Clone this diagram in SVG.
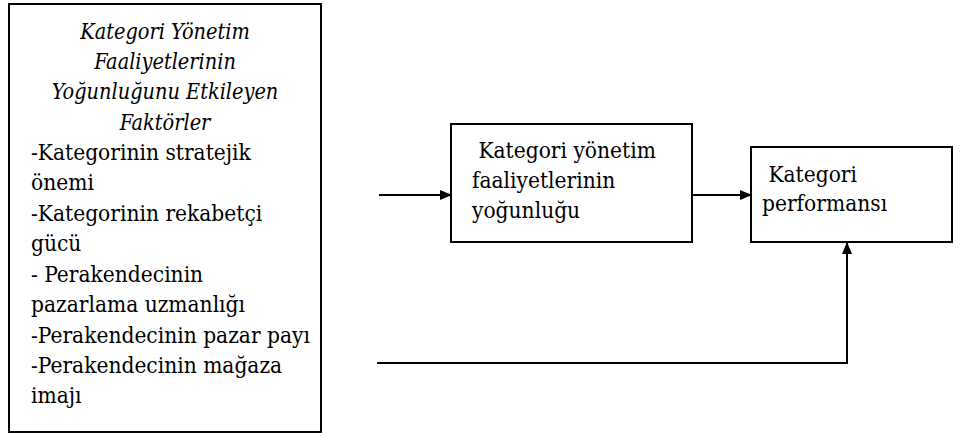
<svg xmlns="http://www.w3.org/2000/svg" width="960" height="437" viewBox="0 0 960 437">
<defs>
<style>
.box{fill:#fff;stroke:#000;stroke-width:2}
.t{font-family:'DejaVu Serif Condensed','DejaVu Serif',serif;font-stretch:condensed;font-size:22.5px;fill:#000}
.it{font-style:italic;font-size:21.5px}
.ln{stroke:#000;stroke-width:2;fill:none}
</style>
<marker id="ah" markerWidth="12" markerHeight="10" refX="11" refY="5" orient="auto" markerUnits="userSpaceOnUse">
<path d="M0,0 L12,5 L0,10 Z" fill="#000"/>
</marker>
</defs>
<g id="factors">
<rect class="box" x="9" y="4" width="312" height="428"/>
<text class="t it" text-anchor="middle"><tspan x="165" y="39">Kategori Yönetim</tspan><tspan x="165" y="69">Faaliyetlerinin</tspan><tspan x="165" y="99">Yoğunluğunu Etkileyen</tspan><tspan x="165" y="130">Faktörler</tspan></text>
<text class="t"><tspan x="31" y="160">-Kategorinin stratejik</tspan><tspan x="31" y="190">önemi</tspan><tspan x="31" y="221">-Kategorinin rekabetçi</tspan><tspan x="31" y="251">gücü</tspan><tspan x="31" y="282">- Perakendecinin</tspan><tspan x="31" y="312">pazarlama uzmanlığı</tspan><tspan x="31" y="343">-Perakendecinin pazar payı</tspan><tspan x="31" y="373">-Perakendecinin mağaza</tspan><tspan x="31" y="403">imajı</tspan></text>
</g>
<g id="intensity">
<rect class="box" x="451" y="124" width="241" height="118"/>
<text class="t" xml:space="preserve"><tspan x="472" y="158"> Kategori yönetim</tspan><tspan x="472" y="188">faaliyetlerinin</tspan><tspan x="472" y="218">yoğunluğu</tspan></text>
</g>
<g id="performance">
<rect class="box" x="751" y="147" width="201" height="95"/>
<text class="t" xml:space="preserve"><tspan x="762" y="182"> Kategori</tspan><tspan x="762" y="211">performansı</tspan></text>
</g>
<g id="connectors">
<line class="ln" x1="379" y1="195" x2="451" y2="195" marker-end="url(#ah)"/>
<line class="ln" x1="692" y1="195" x2="751" y2="195" marker-end="url(#ah)"/>
<polyline class="ln" points="377,363 847,363 847,243" marker-end="url(#ah)"/>
</g>
</svg>
